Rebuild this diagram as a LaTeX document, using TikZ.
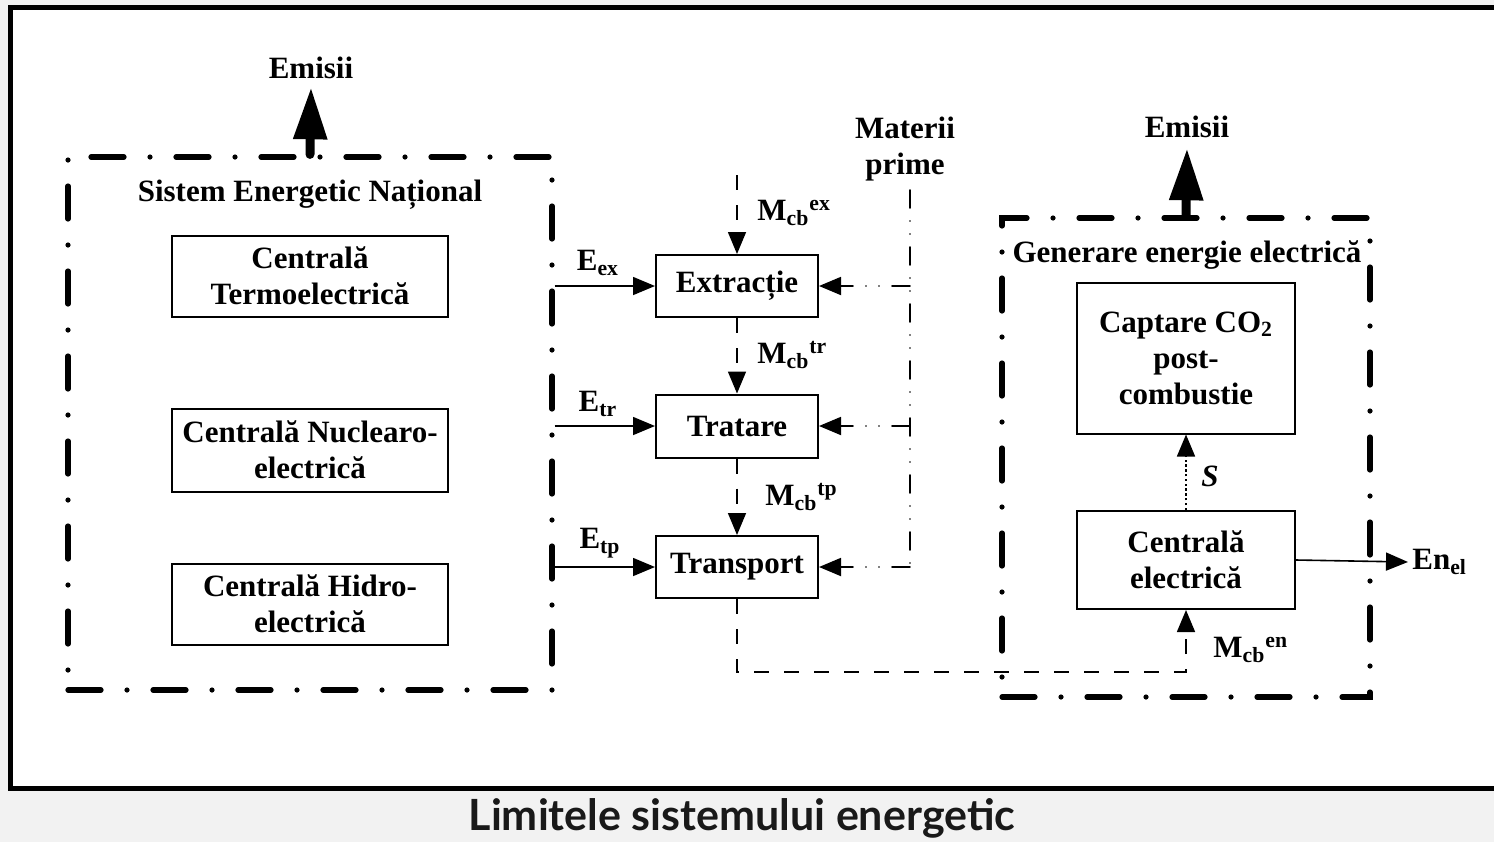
\documentclass[tikz,border=0pt]{standalone}
\usepackage{fontspec}
\setmainfont{Liberation Serif}
\newfontfamily\capfont{Lato}
\usetikzlibrary{arrows.meta,calc}
\definecolor{bg}{HTML}{F2F2F2}
\begin{document}
\begin{tikzpicture}[x=0.5pt,y=-0.5pt,
 txt/.style={font=\fontsize{15.5}{18}\selectfont\bfseries, align=center, inner sep=0pt},
 blk/.style={txt, draw, line width=1pt},
 bound/.style={draw, line width=2.6pt, line cap=round, dash pattern=on 16.5pt off 13pt on 0pt off 13pt, inner sep=0pt},
 flow/.style={line width=0.8pt, -{Triangle[length=11pt,width=9pt]}},
 mflow/.style={flow, dash pattern=on 7.5pt off 7.5pt},
 raw/.style={line width=0.9pt, line cap=round, dash pattern=on 9pt off 6.5pt on 0pt off 6.5pt on 0pt off 6.5pt},
 emis/.style={line width=4.5pt, line cap=round, -{Triangle[length=26pt,width=16pt]}},
]
\useasboundingbox (0,0) rectangle (1494,842);
\fill[bg] (0,0) rectangle (1494,842);
\fill[white] (10,7) rectangle (1494,788);
\draw[line width=2.5pt] (1494,7) -- (10,7) -- (10,788) -- (1494,788);

% boundaries
\node[bound, minimum width=242pt, minimum height=266.5pt] (sen) at (310,423.5) {};
\node[bound, minimum width=184pt, minimum height=239.5pt] (gen) at (1186,457.5) {};

% titles
\node[txt] (em1) at (311,68) {Emisii};
\node[txt] (em2) at (1187,127) {Emisii};
\node[txt] (sent) at (310,195) {Sistem Energetic Național};
\node[txt] (gent) at (1187,255) {Generare energie electrică};
\node[txt] (mp) at (905,149) {Materii\\prime};

% blocks
\node[blk, minimum width=138pt, minimum height=40.5pt] (ct) at (310,276) {Centrală\\Termoelectrică};
\node[blk, minimum width=138pt, minimum height=41.5pt] (cn) at (310,450) {Centrală Nuclearo-\\electrică};
\node[blk, minimum width=138pt, minimum height=40.5pt] (ch) at (310,604) {Centrală Hidro-\\electrică};
\node[blk, minimum width=81pt, minimum height=31pt] (ext) at (737,286) {Extracție};
\node[blk, minimum width=81pt, minimum height=31.5pt] (trat) at (737,426) {Tratare};
\node[blk, minimum width=81pt, minimum height=31pt] (trp) at (737,567) {Transport};
\node[blk, minimum width=109pt, minimum height=75.5pt] (capt) at (1186,358) {Captare CO\textsubscript{2}\\post-\\combustie};
\node[blk, minimum width=109pt, minimum height=49pt] (cen) at (1186,560) {Centrală\\electrică};

% emission arrows
\draw[emis] (sen.north) -- ($(em1.south)+(0,8)$);
\draw[emis] (gen.north) -- ($(em2.south)+(0,10)$);

% fuel flows
\coordinate (mex) at (737,175);
\coordinate (c1) at (737,672);
\draw[mflow] (mex) -- (ext.north);
\draw[mflow] (ext.south) -- (trat.north);
\draw[mflow] (trat.south) -- (trp.north);
\draw[mflow] (trp.south) -- (c1) -- (cen.south |- c1) -- (cen.south);
\node[txt, anchor=west] (lex) at (757,213) {M\textsubscript{cb}\textsuperscript{ex}};
\node[txt, anchor=west] (ltr) at (757,355) {M\textsubscript{cb}\textsuperscript{tr}};
\node[txt, anchor=west] (ltp) at (765,497) {M\textsubscript{cb}\textsuperscript{tp}};
\node[txt, anchor=west] (len) at (1213,650) {M\textsubscript{cb}\textsuperscript{en}};

% energy inputs
\draw[flow] (sen.east |- ext) -- (ext.west);
\draw[flow] (sen.east |- trat) -- (trat.west);
\draw[flow] (sen.east |- trp) -- (trp.west);
\node[txt] (lEex) at (598,263) {E\textsubscript{ex}};
\node[txt] (lEtr) at (598,404) {E\textsubscript{tr}};
\node[txt] (lEtp) at (600,543) {E\textsubscript{tp}};

% raw materials
\coordinate (mpt) at (910,190);
\draw[raw] (mpt) -- (mpt |- trp);
\draw[raw, -{Triangle[length=11pt,width=9pt]}] (mpt |- ext) -- (ext.east);
\draw[raw, -{Triangle[length=11pt,width=9pt]}] (mpt |- trat) -- (trat.east);
\draw[raw, -{Triangle[length=11pt,width=9pt]}] (mpt |- trp) -- (trp.east);

% S flow
\draw[flow, dash pattern=on 1.2pt off 1.2pt] (cen.north) -- (capt.south);
\node[txt, font=\fontsize{15.5}{18}\selectfont\bfseries\itshape] (s) at (1210,476) {S};

% electricity output
\node[txt, anchor=west] (enel) at (1412,562) {En\textsubscript{el}};
\draw[flow] (cen.east) -- ($(enel.west)+(-4,0)$);

% caption
\node[font=\capfont\bfseries\fontsize{21.5}{24}\selectfont, text=black!90, inner sep=0pt] (cap) at (742,818) {Limitele sistemului energetic};
\end{tikzpicture}
\end{document}
